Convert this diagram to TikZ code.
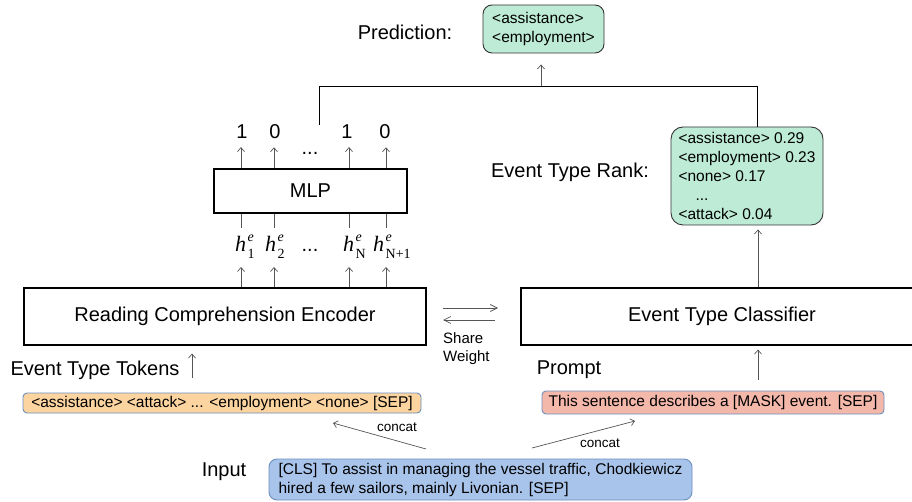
\documentclass[tikz,border=0pt]{standalone}
\usepackage{fontspec}
\setmainfont{Liberation Sans}
\newfontfamily\serifh{Liberation Serif}
\usetikzlibrary{arrows.meta}
\definecolor{gfill}{HTML}{BDEBD6}
\definecolor{ofill}{HTML}{FCD49F}
\definecolor{rfill}{HTML}{F4B8AA}
\definecolor{bfill}{HTML}{A9C4EB}
\definecolor{bline}{HTML}{6C8EBF}
\definecolor{aline}{HTML}{555555}
\newcommand{\hvec}[1]{{\serifh\fontsize{22}{24}\selectfont\itshape h\kern1.5pt}\raisebox{10pt}{\rlap{\serifh\fontsize{14}{14}\selectfont\itshape e}}\raisebox{-7pt}{\serifh\fontsize{14}{14}\selectfont #1}}
\tikzset{
  big/.style={font=\fontsize{20}{24}\selectfont, inner sep=0pt},
  small/.style={font=\fontsize{15.5}{19}\selectfont},
  tiny/.style={font=\fontsize{13.5}{16}\selectfont, inner sep=0pt},
  box/.style={draw=black, line width=1.1pt, inner sep=0pt, font=\fontsize{20}{24}\selectfont},
  gbox/.style={draw=black!80, line width=0.9pt, fill=gfill, rounded corners=9pt, small, align=left, inner sep=0pt},
  tbox/.style={draw=bline, line width=0.9pt, rounded corners=4pt, small, inner sep=0pt},
  arr/.style={draw=aline, line width=0.7pt, -{Straight Barb[length=4pt,width=7pt]}},
  ln/.style={draw=aline, line width=0.7pt},
}
\begin{document}
\begin{tikzpicture}[x=1pt,y=-1pt]
\useasboundingbox (0,0) rectangle (912,502);
% prediction
\node[gbox, minimum width=121pt, minimum height=48pt] (pred) at (543.5,29) {<assistance>\\<employment>};
\node[big] (predl) at (405,32) {Prediction:};
% rank
\node[gbox, rounded corners=12pt, minimum width=152pt, minimum height=98pt] (rank) at (747,176)
  {<assistance> 0.29\\<employment> 0.23\\<none> 0.17\\\hspace*{17pt}...\\<attack> 0.04};
\node[big] (rankl) at (570,172) {Event Type Rank:};
% top joint
\coordinate (jl) at (319,125);
\coordinate (j1) at (319,86);
\coordinate (j2) at (757,86);
\coordinate (jm) at (541,86);
\draw[draw=black, line width=0.9pt] (rank.north -| j2) -- (j2) -- (j1) -- (jl);
\draw[arr, shorten >=11pt] (jm) -- (jm |- pred.south);
% MLP
\node[box, minimum width=193pt, minimum height=44pt] (mlp) at (310.5,191) {MLP};
\node[big] (o1) at (242,132) {1};
\node[big] (o2) at (275,132) {0};
\node[big] (od) at (310,153) {...};
\node[big] (o3) at (347,132) {1};
\node[big] (o4) at (385,132) {0};
\coordinate (k1) at (241,0);
\coordinate (k2) at (274,0);
\coordinate (k3) at (349,0);
\coordinate (k4) at (386,0);
\foreach \k/\o in {k1/o1,k2/o2,k3/o3,k4/o4}
  \draw[arr, shorten >=8pt] (\k |- mlp.north) -- (\k |- \o.south);
% h labels
\node[inner sep=0pt, anchor=base west] (h1) at (235,252) {\hvec{1}};
\node[inner sep=0pt, anchor=base west] (h2) at (265,252) {\hvec{2}};
\node[big] (hd) at (310,250) {...};
\node[inner sep=0pt, anchor=base west] (h3) at (343,252) {\hvec{N}};
\node[inner sep=0pt, anchor=base west] (h4) at (373,252) {\hvec{N+1}};
% encoder
\node[box, minimum width=402pt, minimum height=57pt] (enc) at (225,316.5) {Reading Comprehension Encoder};
\foreach \k/\h in {k1/h1,k2/h2,k3/h3,k4/h4}{
  \draw[ln] (\k |- mlp.south) -- (\k |- 0,228);
  \draw[arr] (\k |- enc.north) -- (\k |- 0,267);
}
% tokens
\node[big] (tokl) at (95,370) {Event Type Tokens};
\node[tbox, fill=ofill, minimum width=398pt, minimum height=20pt] (tok) at (222,403)
  {<assistance> <attack> ... <employment> <none> [SEP]};
\coordinate (ka) at (192,0);
\draw[arr, shorten <=15pt, shorten >=8pt] (ka |- tok.north) -- (ka |- enc.south);
% input
\node[big] (inl) at (224,472) {Input};
\node[tbox, fill=bfill, rounded corners=8pt, align=left, minimum width=423pt, minimum height=41pt] (inp) at (480.5,479.5)
  {[CLS] To assist in managing the vessel traffic, Chodkiewicz\\hired a few sailors, mainly Livonian. [SEP]};
% classifier
\node[box, minimum width=402pt, minimum height=57pt] (cls) at (722,316.5) {Event Type Classifier};
\coordinate (kc) at (758,0);
\draw[arr, shorten >=4pt] (kc |- cls.north) -- (kc |- rank.south);
% prompt
\node[big] (prl) at (569,370) {Prompt};
\node[tbox, fill=rfill, minimum width=342pt, minimum height=23pt] (pr) at (713,402.5)
  {This sentence describes a [MASK] event. [SEP]};
\draw[arr, shorten <=11pt, shorten >=4pt] (kc |- pr.north) -- (kc |- cls.south);
% concat arrows
\coordinate (c1s) at (426,449);
\coordinate (c1e) at (333,423);
\coordinate (c2s) at (532,448);
\coordinate (c2e) at (635,421);
\draw[arr] (c1s) -- (c1e);
\draw[arr] (c2s) -- (c2e);
\node[tiny] (cc1) at (397,427) {concat};
\node[tiny] (cc2) at (600,443) {concat};
% share weight
\coordinate (s1) at (443,308);
\coordinate (s2) at (498,308);
\coordinate (s3) at (495,320);
\coordinate (s4) at (443,320);
\draw[arr, -{Straight Barb[length=7pt,width=7pt]}] (s1) -- (s2);
\draw[arr, -{Straight Barb[length=7pt,width=7pt]}] (s3) -- (s4);
\node[font=\fontsize{15}{18}\selectfont, align=left, inner sep=0pt, anchor=west] (sw) at (443,349) {Share\\Weight};
\end{tikzpicture}
\end{document}
